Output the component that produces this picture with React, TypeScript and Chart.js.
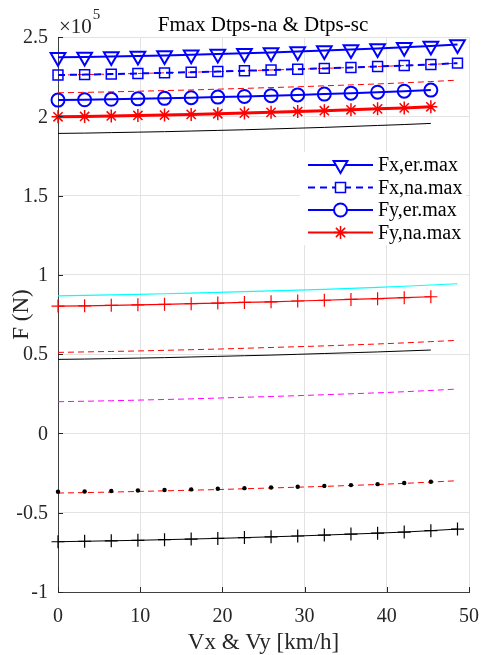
import React, { useEffect, useRef } from 'react';
import { Chart, registerables } from 'chart.js';

Chart.register(...registerables);

// ---------- data (values in units of 1e5 N) ----------
const X_FULL = [0, 3.24, 6.48, 9.72, 12.96, 16.2, 19.44, 22.68, 25.92, 29.16, 32.4, 35.64, 38.88, 42.12, 45.36, 48.6];
const X_SHORT = [0, 3.24, 6.48, 9.72, 12.96, 16.2, 19.44, 22.68, 25.92, 29.16, 32.4, 35.64, 38.88, 42.12, 45.36];

const FX_ER_MAX = [2.372, 2.374, 2.377, 2.380, 2.384, 2.388, 2.393, 2.398, 2.403, 2.409, 2.415, 2.421, 2.428, 2.435, 2.443, 2.452];
const FX_NA_MAX = [2.260, 2.263, 2.266, 2.270, 2.274, 2.278, 2.282, 2.287, 2.292, 2.297, 2.302, 2.308, 2.314, 2.320, 2.327, 2.335];
const FX_NA_RED = [2.260, 2.263, 2.266, 2.270, 2.274, 2.278, 2.282, 2.287, 2.292, 2.297, 2.302, 2.308, 2.314, 2.320, 2.327, 2.335];
const RED_DASH_TOP = [2.148, 2.151, 2.154, 2.158, 2.162, 2.166, 2.171, 2.176, 2.181, 2.186, 2.192, 2.198, 2.204, 2.211, 2.219, 2.228];
const FY_ER_MAX = [2.102, 2.104, 2.107, 2.110, 2.113, 2.117, 2.121, 2.125, 2.130, 2.135, 2.140, 2.146, 2.152, 2.158, 2.165];
const FY_NA_MAX = [1.997, 1.999, 2.002, 2.005, 2.008, 2.012, 2.016, 2.020, 2.025, 2.030, 2.035, 2.041, 2.047, 2.053, 2.060];
const BLACK_TOP = [1.892, 1.894, 1.897, 1.900, 1.903, 1.907, 1.911, 1.915, 1.920, 1.925, 1.930, 1.936, 1.942, 1.948, 1.955];
const CYAN_LINE = [0.868, 0.871, 0.874, 0.877, 0.881, 0.885, 0.889, 0.894, 0.899, 0.904, 0.909, 0.915, 0.921, 0.928, 0.936, 0.944];
const RED_PLUS = [0.803, 0.805, 0.808, 0.811, 0.814, 0.818, 0.822, 0.826, 0.830, 0.835, 0.840, 0.845, 0.850, 0.856, 0.862];
const RED_DASH_MID = [0.511, 0.514, 0.517, 0.520, 0.524, 0.528, 0.532, 0.537, 0.542, 0.547, 0.552, 0.558, 0.564, 0.571, 0.579, 0.587];
const BLACK_MID = [0.467, 0.469, 0.472, 0.475, 0.478, 0.482, 0.486, 0.490, 0.494, 0.499, 0.504, 0.509, 0.514, 0.520, 0.526];
const MAGENTA_DASH = [0.200, 0.203, 0.206, 0.210, 0.214, 0.218, 0.223, 0.228, 0.233, 0.238, 0.244, 0.250, 0.256, 0.263, 0.271, 0.280];
const RED_DASH_LOW = [-0.376, -0.373, -0.370, -0.366, -0.362, -0.358, -0.354, -0.349, -0.344, -0.339, -0.334, -0.328, -0.322, -0.315, -0.307, -0.298];
const BLACK_DOTS = [-0.368, -0.366, -0.363, -0.360, -0.357, -0.353, -0.349, -0.345, -0.341, -0.336, -0.331, -0.326, -0.320, -0.313, -0.305];
const BLACK_PLUS = [-0.683, -0.680, -0.677, -0.674, -0.670, -0.666, -0.662, -0.657, -0.652, -0.647, -0.641, -0.635, -0.629, -0.622, -0.613, -0.603];

const X_TICKS = [0, 10, 20, 30, 40, 50];
const X_TICK_LABELS = ['0', '10', '20', '30', '40', '50'];
const Y_TICKS = [-1, -0.5, 0, 0.5, 1, 1.5, 2, 2.5];
const Y_TICK_LABELS = ['-1', '-0.5', '0', '0.5', '1', '1.5', '2', '2.5'];

const TITLE = 'Fmax Dtps-na & Dtps-sc';
const X_LABEL = 'Vx & Vy [km/h]';
const Y_LABEL = 'F (N)';
const EXP_BASE = '\u00d710';
const EXP_POWER = '5';

const LEGEND_LABELS = ['Fx,er.max', 'Fx,na.max', 'Fy,er.max', 'Fy,na.max'];

const FONT = '"Liberation Serif", "Times New Roman", serif';
const BLUE = '#0000ff';
const RED = '#ff0000';
const TXT = '#262626';

const pts = (xs: number[], ys: number[]) => ys.map((y, i) => ({ x: xs[i], y }));

type Mk = 'tri' | 'rect' | 'circle' | 'star' | 'none';

function drawMarker(ctx: CanvasRenderingContext2D, kind: Mk, x: number, y: number) {
  ctx.beginPath();
  if (kind === 'tri') {
    const r = 8;
    ctx.moveTo(x, y + r);
    ctx.lineTo(x - r * Math.sin(Math.PI / 3), y - r / 2);
    ctx.lineTo(x + r * Math.sin(Math.PI / 3), y - r / 2);
    ctx.closePath();
    ctx.fillStyle = '#fff';
    ctx.fill();
  } else if (kind === 'rect') {
    const s = 5;
    ctx.rect(x - s, y - s, 2 * s, 2 * s);
    ctx.fillStyle = '#fff';
    ctx.fill();
  } else if (kind === 'circle') {
    ctx.arc(x, y, 6.5, 0, Math.PI * 2);
    ctx.fillStyle = '#fff';
    ctx.fill();
  } else if (kind === 'star') {
    const r = 6.5;
    for (let k = 0; k < 4; k++) {
      const a = (k * Math.PI) / 4;
      ctx.moveTo(x - r * Math.cos(a), y - r * Math.sin(a));
      ctx.lineTo(x + r * Math.cos(a), y + r * Math.sin(a));
    }
  }
  ctx.stroke();
}

const decorPlugin = {
  id: 'decor',
  afterDraw(chart: any) {
    const { ctx, chartArea: a, scales } = chart;
    ctx.save();
    // inward tick marks
    ctx.strokeStyle = TXT;
    ctx.lineWidth = 1;
    ctx.setLineDash([]);
    for (const v of Y_TICKS) {
      const y = Math.round(scales.y.getPixelForValue(v)) + 0.5;
      ctx.beginPath();
      ctx.moveTo(a.left, y);
      ctx.lineTo(a.left + 5, y);
      ctx.stroke();
    }
    for (const v of X_TICKS) {
      const x = Math.round(scales.x.getPixelForValue(v)) + 0.5;
      ctx.beginPath();
      ctx.moveTo(x, a.bottom);
      ctx.lineTo(x, a.bottom - 5);
      ctx.stroke();
    }

    // tick labels
    ctx.fillStyle = TXT;
    ctx.font = `20px ${FONT}`;
    ctx.textBaseline = 'middle';
    ctx.textAlign = 'right';
    Y_TICKS.forEach((v, i) => {
      ctx.fillText(Y_TICK_LABELS[i], a.left - 10, scales.y.getPixelForValue(v) + 1);
    });
    ctx.textAlign = 'center';
    X_TICKS.forEach((v, i) => {
      ctx.fillText(X_TICK_LABELS[i], scales.x.getPixelForValue(v), a.bottom + 25);
    });

    // title
    ctx.fillStyle = '#000';
    ctx.textAlign = 'center';
    ctx.textBaseline = 'middle';
    ctx.font = `21px ${FONT}`;
    ctx.fillText(TITLE, 263, 25);

    // exponent
    ctx.fillStyle = TXT;
    ctx.textAlign = 'left';
    ctx.font = `21px ${FONT}`;
    ctx.fillText(EXP_BASE, 59, 27);
    const w = ctx.measureText(EXP_BASE).width;
    ctx.font = `15px ${FONT}`;
    ctx.fillText(EXP_POWER, 59 + w + 1, 15);

    // axis labels
    ctx.textAlign = 'center';
    ctx.font = `23px ${FONT}`;
    ctx.fillText(X_LABEL, (a.left + a.right) / 2, 643);
    ctx.save();
    ctx.translate(22, (a.top + a.bottom) / 2);
    ctx.rotate(-Math.PI / 2);
    ctx.fillText(Y_LABEL, 0, 0);
    ctx.restore();

    // legend
    const ds = chart.data.datasets;
    const entries = [
      { d: ds[0], mk: 'tri' as Mk },
      { d: ds[1], mk: 'rect' as Mk },
      { d: ds[4], mk: 'circle' as Mk },
      { d: ds[5], mk: 'star' as Mk },
    ];
    ctx.fillStyle = '#fff';
    ctx.fillRect(300, 152, 166, 93);
    const rows = [165, 187.5, 210, 232.5];
    entries.forEach((e, i) => {
      const y = rows[i];
      ctx.strokeStyle = e.d.borderColor;
      ctx.lineWidth = i === 3 ? 2 : e.d.borderWidth;
      ctx.setLineDash(e.d.borderDash || []);
      ctx.beginPath();
      ctx.moveTo(308, y);
      ctx.lineTo(373, y);
      ctx.stroke();
      ctx.setLineDash([]);
      ctx.lineWidth = e.d.pointBorderWidth || 1.5;
      drawMarker(ctx, e.mk, 340.5, y);
      ctx.fillStyle = '#000';
      ctx.textAlign = 'left';
      ctx.textBaseline = 'middle';
      ctx.font = `20px ${FONT}`;
      ctx.fillText(LEGEND_LABELS[i], 378, y + 1);
    });
    ctx.restore();
  },
};

export default function App() {
  const ref = useRef<HTMLCanvasElement | null>(null);

  useEffect(() => {
    document.body.style.margin = '0';
    document.body.style.background = '#fff';
    const canvas = ref.current;
    if (!canvas) return;

    const base = { fill: false, clip: false as any, tension: 0, pointHoverRadius: 0 };

    const chart = new Chart(canvas, {
      type: 'line',
      data: {
        datasets: [
          {
            ...base, label: LEGEND_LABELS[0], data: pts(X_FULL, FX_ER_MAX),
            borderColor: BLUE, borderWidth: 2, pointStyle: 'triangle', rotation: 180,
            pointRadius: 8.5, pointBorderColor: BLUE, pointBackgroundColor: 'rgba(0,0,0,0)', pointBorderWidth: 2,
          },
          {
            ...base, label: LEGEND_LABELS[1], data: pts(X_FULL, FX_NA_MAX),
            borderColor: BLUE, borderWidth: 2, borderDash: [7, 5], pointStyle: 'rect',
            pointRadius: 7, pointBorderColor: BLUE, pointBackgroundColor: 'rgba(0,0,0,0)', pointBorderWidth: 1.5,
          },
          {
            ...base, label: 'na red', data: pts(X_FULL, FX_NA_RED),
            borderColor: RED, borderWidth: 1, borderDash: [6, 4], pointRadius: 0,
          },
          {
            ...base, label: 'red dash top', data: pts(X_FULL, RED_DASH_TOP),
            borderColor: RED, borderWidth: 1, borderDash: [6, 4], pointRadius: 0,
          },
          {
            ...base, label: LEGEND_LABELS[2], data: pts(X_SHORT, FY_ER_MAX),
            borderColor: BLUE, borderWidth: 2, pointStyle: 'circle',
            pointRadius: 6.5, pointBorderColor: BLUE, pointBackgroundColor: 'rgba(0,0,0,0)', pointBorderWidth: 2,
          },
          {
            ...base, label: LEGEND_LABELS[3], data: pts(X_SHORT, FY_NA_MAX),
            borderColor: RED, borderWidth: 3, pointStyle: 'star',
            pointRadius: 6.5, pointBorderColor: RED, pointBackgroundColor: RED, pointBorderWidth: 1.5,
          },
          {
            ...base, label: 'black top', data: pts(X_SHORT, BLACK_TOP),
            borderColor: '#000', borderWidth: 1, pointRadius: 0,
          },
          {
            ...base, label: 'cyan', data: pts(X_FULL, CYAN_LINE),
            borderColor: '#00ffff', borderWidth: 1.2, pointRadius: 0,
          },
          {
            ...base, label: 'red plus', data: pts(X_SHORT, RED_PLUS),
            borderColor: RED, borderWidth: 1.2, pointStyle: 'cross',
            pointRadius: 6.5, pointBorderColor: RED, pointBorderWidth: 1.2,
          },
          {
            ...base, label: 'red dash mid', data: pts(X_FULL, RED_DASH_MID),
            borderColor: RED, borderWidth: 1, borderDash: [6, 4], pointRadius: 0,
          },
          {
            ...base, label: 'black mid', data: pts(X_SHORT, BLACK_MID),
            borderColor: '#000', borderWidth: 1, pointRadius: 0,
          },
          {
            ...base, label: 'magenta', data: pts(X_FULL, MAGENTA_DASH),
            borderColor: '#ff00ff', borderWidth: 1, borderDash: [6, 4], pointRadius: 0,
          },
          {
            ...base, label: 'black dots', data: pts(X_SHORT, BLACK_DOTS),
            showLine: false, pointStyle: 'circle', pointRadius: 2.2,
            pointBorderColor: '#000', pointBackgroundColor: '#000', pointBorderWidth: 0,
          },
          {
            ...base, label: 'red dash low', data: pts(X_FULL, RED_DASH_LOW),
            borderColor: RED, borderWidth: 1, borderDash: [6, 4], pointRadius: 0,
          },
          {
            ...base, label: 'black plus', data: pts(X_FULL, BLACK_PLUS),
            borderColor: '#000', borderWidth: 1, pointStyle: 'cross',
            pointRadius: 6.5, pointBorderColor: '#000', pointBorderWidth: 1.2,
          },
        ] as any,
      },
      options: {
        animation: false,
        responsive: false,
        devicePixelRatio: 1,
        events: [],
        layout: { padding: { left: 0, top: 37, right: 12, bottom: 0 } },
        plugins: { legend: { display: false }, title: { display: false }, tooltip: { enabled: false } },
        scales: {
          x: {
            type: 'linear',
            min: 0,
            max: 50,
            afterFit: (s: any) => { s.height = 63; s.paddingLeft = 0; s.paddingRight = 0; },
            afterBuildTicks: (s: any) => { s.ticks = X_TICKS.map((v) => ({ value: v })); },
            ticks: { display: false },
            grid: { color: '#e3e3e3', lineWidth: 1, drawTicks: false },
            border: { display: true, color: '#404040', width: 1 },
          },
          y: {
            type: 'linear',
            min: -1,
            max: 2.5,
            afterFit: (s: any) => { s.width = 58; s.paddingTop = 0; s.paddingBottom = 0; },
            afterBuildTicks: (s: any) => { s.ticks = Y_TICKS.map((v) => ({ value: v })); },
            ticks: { display: false },
            grid: { color: '#e3e3e3', lineWidth: 1, drawTicks: false },
            border: { display: true, color: '#404040', width: 1 },
          },
        },
      } as any,
      plugins: [decorPlugin],
    });
    return () => chart.destroy();
  }, []);

  return (
    <div style={{ width: 481, height: 655 }}>
      <canvas ref={ref} width={481} height={655} style={{ display: 'block', width: 481, height: 655 }} />
    </div>
  );
}
